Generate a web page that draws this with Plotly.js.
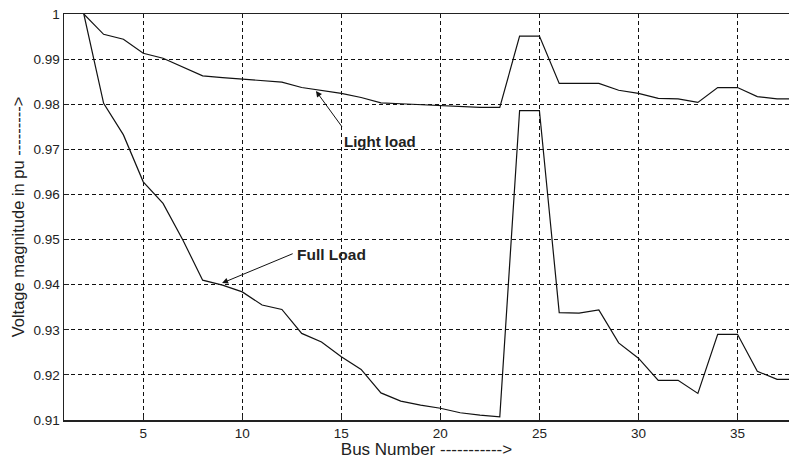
<!DOCTYPE html>
<html>
<head>
<meta charset="utf-8">
<script src="https://cdn.plot.ly/plotly-3.0.1.min.js"></script>
<style>html,body{margin:0;padding:0;background:#fff;}#chart{width:789px;height:459px;}</style>
</head>
<body>
<div id="chart"></div>
<script>
const busNumbers = [2,3,4,5,6,7,8,9,10,11,12,13,14,15,16,17,18,19,20,21,22,23,24,25,26,27,28,29,30,31,32,33,34,35,36,37,38];
const lightLoad = [1.0,0.9955,0.9944,0.9913,0.9902,0.9882,0.9863,0.9859,0.9856,0.9852,0.9849,0.9837,0.9831,0.9824,0.9815,0.9803,0.9801,0.9799,0.9796,0.9795,0.9793,0.9793,0.9951,0.9951,0.9846,0.9846,0.9846,0.9831,0.9824,0.9813,0.9812,0.9804,0.9837,0.9837,0.9817,0.9812,0.9812];
const fullLoad = [1.0,0.9802,0.9732,0.9628,0.958,0.9499,0.941,0.9399,0.9384,0.9355,0.9345,0.9292,0.9273,0.924,0.9212,0.916,0.9142,0.9133,0.9126,0.9116,0.9111,0.9107,0.9786,0.9786,0.9338,0.9337,0.9344,0.9271,0.9237,0.9188,0.9188,0.9159,0.929,0.929,0.9208,0.919,0.919];
const xTicks = [5,10,15,20,25,30,35];
const yTicks = [0.91,0.92,0.93,0.94,0.95,0.96,0.97,0.98,0.99,1];
const yTickText = ["0.91","0.92","0.93","0.94","0.95","0.96","0.97","0.98","0.99","1"];

const font = "Liberation Sans, Arial, sans-serif";
const traces = [
  {x: busNumbers, y: lightLoad, type: 'scatter', mode: 'lines', line: {color: '#111', width: 1.2}, name: 'Light load'},
  {x: busNumbers, y: fullLoad, type: 'scatter', mode: 'lines', line: {color: '#111', width: 1.2}, name: 'Full Load'}
];
const layout = {
  width: 789, height: 459,
  margin: {l: 64, r: 0, t: 14, b: 39},
  paper_bgcolor: '#fff', plot_bgcolor: '#fff',
  showlegend: false,
  font: {family: font, color: '#222', size: 13},
  xaxis: {
    range: [1, 37.6], tickvals: xTicks, ticks: 'inside', ticklen: 5, tickcolor: '#222',
    showline: true, linecolor: '#222', linewidth: 1.5, mirror: true,
    showgrid: true, gridcolor: '#111', gridwidth: 1, griddash: '4px,3px',
    zeroline: false, tickfont: {size: 13.5, family: font},
    title: {text: 'Bus Number ----------->', font: {size: 17, family: font, color: '#222'}, standoff: 0}
  },
  yaxis: {
    range: [0.91, 1], tickvals: yTicks, ticktext: yTickText, ticks: 'inside', ticklen: 5, tickcolor: '#222',
    showline: true, linecolor: '#222', linewidth: 1.5, mirror: true,
    showgrid: true, gridcolor: '#111', gridwidth: 1, griddash: '4px,3px',
    zeroline: false, tickfont: {size: 13.5, family: font},
    title: {text: 'Voltage magnitude in pu --------->', font: {size: 16.5, family: font, color: '#222'}, standoff: 4}
  },
  annotations: [
    {x: 13.72, y: 0.98293, ax: 15.08, ay: 0.97472, axref: 'x', ayref: 'y', xref: 'x', yref: 'y',
     text: '', showarrow: true, arrowhead: 2, arrowsize: 1.2, arrowwidth: 1, arrowcolor: '#111'},
    {x: 16.95, y: 0.97184, xref: 'x', yref: 'y', text: '<b>Light load</b>', showarrow: false,
     font: {size: 15, family: font, color: '#222'}},
    {x: 8.98, y: 0.94035, ax: 12.62, ay: 0.947, axref: 'x', ayref: 'y', xref: 'x', yref: 'y',
     text: '', showarrow: true, arrowhead: 2, arrowsize: 1.2, arrowwidth: 1, arrowcolor: '#111'},
    {x: 14.5, y: 0.9466, xref: 'x', yref: 'y', text: '<b>Full Load</b>', showarrow: false,
     font: {size: 15.5, family: font, color: '#222'}}
  ]
};
Plotly.newPlot('chart', traces, layout, {displayModeBar: false, staticPlot: true});
</script>
</body>
</html>
